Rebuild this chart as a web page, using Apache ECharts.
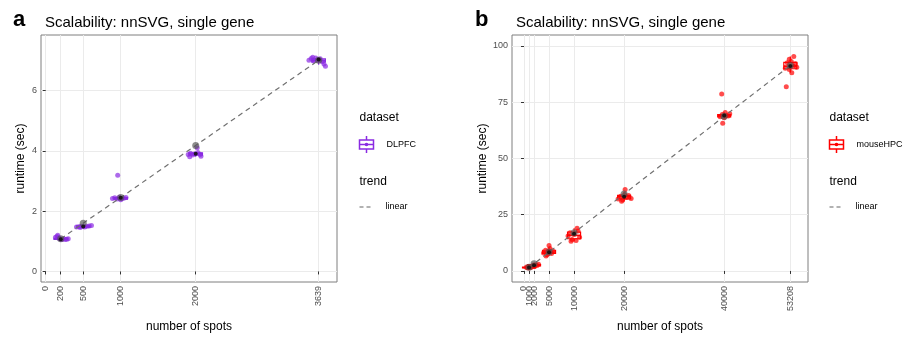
<!DOCTYPE html>
<html>
<head>
<meta charset="utf-8">
<script src="https://cdn.jsdelivr.net/npm/echarts@6/dist/echarts.min.js"></script>
<style>
  html, body { margin: 0; padding: 0; background: #fff; }
  #chart { width: 908px; height: 338px; }
</style>
</head>
<body>
<div id="chart"></div>
<script>
// panel a: DLPFC
const dlpfcTicks = [0, 200, 500, 1000, 2000, 3639];
const dlpfcYTicks = [0, 2, 4, 6];
const dlpfcPoints = [
  [130, 1.13], [150, 1.16], [160, 1.2], [175, 1.1], [190, 1.08], [205, 1.06], [220, 1.07],
  [240, 1.08], [260, 1.06], [280, 1.07], [300, 1.08], [170, 1.12],
  [410, 1.47], [440, 1.48], [470, 1.5], [500, 1.49], [520, 1.47], [550, 1.5], [580, 1.51], [610, 1.52], [460, 1.46],
  [890, 2.42], [920, 2.44], [950, 2.4], [980, 2.46], [1010, 2.41], [1040, 2.43], [1070, 2.45], [960, 3.19], [1000, 2.38],
  [1900, 3.88], [1930, 3.92], [1960, 3.86], [1990, 3.9], [2030, 3.94], [2060, 3.88], [2070, 3.82], [1920, 3.8], [2020, 4.1],
  [3510, 7.0], [3540, 7.06], [3570, 6.98], [3600, 7.08], [3630, 7.02], [3660, 7.05], [3690, 6.95], [3710, 6.88], [3730, 6.8], [3560, 7.1]
];
const dlpfcBoxes = [
  // x, min, q1, median, q3, max
  [200, 1.05, 1.06, 1.08, 1.1, 1.15],
  [500, 1.45, 1.47, 1.49, 1.51, 1.55],
  [1000, 2.38, 2.4, 2.42, 2.45, 2.48],
  [2000, 3.8, 3.86, 3.9, 3.93, 3.96],
  [3639, 6.85, 6.95, 7.0, 7.05, 7.1]
];
const dlpfcTrend = [[200, 1.08], [500, 1.6], [1000, 2.45], [2000, 4.18], [3639, 7.0]];
const dlpfcMedian = [[200, 1.07], [500, 1.49], [1000, 2.44], [2000, 3.9], [3639, 7.03]];

// panel b: mouseHPC
const hpcTicks = [0, 1000, 2000, 5000, 10000, 20000, 40000, 53208];
const hpcYTicks = [0, 25, 50, 75, 100];
const hpcPoints = [
  [600, 1.4], [800, 1.6], [1000, 1.3], [1200, 1.7], [1400, 1.5], [500, 1.8],
  [1700, 2.2], [1900, 2.6], [2100, 2.0], [2300, 2.8], [2600, 2.4], [2900, 3.0],
  [3900, 8.0], [4300, 9.2], [4600, 7.2], [4900, 8.6], [5200, 10.0], [5500, 7.8], [5700, 9.0], [5000, 11.3], [4400, 6.6],
  [8800, 15.5], [9200, 17.0], [9600, 14.0], [10000, 16.2], [10400, 13.5], [10800, 17.8], [11100, 15.0], [10600, 19.0], [9400, 13.2],
  [18800, 32.0], [19300, 33.2], [19700, 31.5], [20100, 34.0], [20500, 32.6], [20900, 33.5], [21400, 32.2], [20200, 36.2], [19500, 31.0],
  [39200, 68.5], [39600, 69.5], [40000, 68.0], [40400, 69.2], [40800, 68.8], [41100, 69.8], [39500, 78.6], [39700, 65.6], [40200, 70.4],
  [52200, 90.0], [52600, 92.5], [53000, 89.5], [53400, 93.0], [53800, 91.0], [54200, 92.0], [54500, 90.5], [53900, 95.3], [53500, 88.0], [52400, 81.8], [53000, 94.0]
];
const hpcBoxes = [
  [1000, 1.3, 1.4, 1.5, 1.7, 1.8],
  [2000, 2.0, 2.2, 2.5, 2.8, 3.0],
  [5000, 6.6, 7.8, 8.4, 9.2, 10.5],
  [10000, 13.2, 14.3, 15.8, 17.3, 19.0],
  [20000, 31.0, 32.0, 33.0, 33.6, 35.0],
  [40000, 67.8, 68.4, 69.0, 69.5, 70.4],
  [53208, 88.0, 89.8, 91.0, 92.6, 95.3]
];
const hpcTrend = [[1000, 1.6], [2000, 3.2], [5000, 8.4], [10000, 17.0], [20000, 34.2], [40000, 68.7], [53208, 91.3]];
const hpcMedian = [[1000, 1.5], [2000, 2.5], [5000, 8.3], [10000, 16.5], [20000, 33.0], [40000, 69.0], [53208, 91.0]];

const FONT = 'Liberation Sans, Arial, sans-serif';
const PURPLE = '#8A2BE2';
const RED = '#FF0000';

function boxSeries(idx, data, color, halfWidth) {
  return {
    type: 'custom',
    xAxisIndex: idx, yAxisIndex: idx,
    data: data,
    z: 2,
    renderItem: (params, api) => {
      const x = api.value(0);
      const lo = api.coord([x, api.value(1)]);
      const q1 = api.coord([x - halfWidth, api.value(2)]);
      const med = api.coord([x, api.value(3)]);
      const q3 = api.coord([x + halfWidth, api.value(4)]);
      const hi = api.coord([x, api.value(5)]);
      const style = { stroke: color, lineWidth: 1.2, fill: null };
      return {
        type: 'group',
        children: [
          { type: 'line', shape: { x1: hi[0], y1: hi[1], x2: hi[0], y2: q3[1] }, style },
          { type: 'line', shape: { x1: lo[0], y1: lo[1], x2: lo[0], y2: q1[1] }, style },
          { type: 'rect', shape: { x: q1[0], y: q3[1], width: q3[0] - q1[0], height: q1[1] - q3[1] },
            style: { stroke: color, lineWidth: 1.2, fill: '#fff' } },
          { type: 'line', shape: { x1: q1[0], y1: med[1], x2: q3[0], y2: med[1] }, style: { stroke: color, lineWidth: 1.6 } }
        ]
      };
    }
  };
}

function xAxis(idx, min, max, ticks, labels) {
  return {
    type: 'value', gridIndex: idx, min, max, position: 'bottom',
    name: 'number of spots', nameLocation: 'middle', nameGap: 39,
    nameTextStyle: { color: '#000', fontSize: 12, fontFamily: FONT },
    axisLine: { show: false },
    axisTick: { show: true, length: 3, lineStyle: { color: '#333' }, customValues: ticks },
    axisLabel: {
      rotate: 90, fontSize: 9, color: '#4d4d4d', fontFamily: FONT, margin: 4,
      customValues: labels, hideOverlap: false, formatter: v => String(v)
    },
    splitLine: { show: true, lineStyle: { color: '#ebebeb', width: 1 } }
  };
}

// extra label-only axis, so crowded labels in panel b all stay visible
function labelAxis(idx, min, max, labels) {
  return {
    type: 'value', gridIndex: idx, min, max, position: 'bottom', offset: 0,
    axisLine: { show: false }, axisTick: { show: false }, splitLine: { show: false },
    axisLabel: {
      rotate: 90, fontSize: 9, color: '#4d4d4d', fontFamily: FONT, margin: 4,
      customValues: labels, hideOverlap: false, formatter: v => String(v)
    }
  };
}

function yAxis(idx, min, max, ticks, gap) {
  return {
    type: 'value', gridIndex: idx, min, max,
    name: 'runtime (sec)', nameLocation: 'middle', nameGap: gap,
    nameTextStyle: { color: '#000', fontSize: 12, fontFamily: FONT },
    axisLine: { show: false },
    axisTick: { show: true, length: 3, lineStyle: { color: '#333' }, customValues: ticks },
    axisLabel: { fontSize: 9, color: '#4d4d4d', fontFamily: FONT, margin: 4, customValues: ticks },
    splitLine: { show: true, lineStyle: { color: '#ebebeb', width: 1 } }
  };
}

function legend(x, label, color) {
  return {
    type: 'group', left: x, top: 112,
    children: [
      { type: 'text', x: 0, y: 0, style: { text: 'dataset', fontSize: 12, fontFamily: FONT, fill: '#000' } },
      { type: 'line', shape: { x1: 7, y1: 24, x2: 7, y2: 41 }, style: { stroke: color, lineWidth: 1.5 } },
      { type: 'rect', shape: { x: 0, y: 28, width: 14, height: 9 }, style: { stroke: color, lineWidth: 1.5, fill: '#fff' } },
      { type: 'line', shape: { x1: 0, y1: 32.5, x2: 14, y2: 32.5 }, style: { stroke: color, lineWidth: 1.5 } },
      { type: 'circle', shape: { cx: 7, cy: 32.5, r: 1.8 }, style: { fill: color } },
      { type: 'text', x: 27, y: 28, style: { text: label, fontSize: 9, fontFamily: FONT, fill: '#000' } },
      { type: 'text', x: 0, y: 64, style: { text: 'trend', fontSize: 12, fontFamily: FONT, fill: '#000' } },
      { type: 'line', shape: { x1: 0, y1: 95, x2: 14, y2: 95 }, style: { stroke: '#666', lineWidth: 1.2, lineDash: [4, 3] } },
      { type: 'text', x: 26, y: 90, style: { text: 'linear', fontSize: 9, fontFamily: FONT, fill: '#000' } }
    ]
  };
}

function panelSeries(idx, points, boxes, trend, median, color, halfWidth) {
  return [
    boxSeries(idx, boxes, color, halfWidth),
    {
      type: 'scatter', xAxisIndex: idx, yAxisIndex: idx, data: points, z: 3,
      symbolSize: 5, itemStyle: { color: color, opacity: 0.7 }, silent: true
    },
    {
      type: 'line', xAxisIndex: idx, yAxisIndex: idx, data: trend, z: 4,
      symbol: 'circle', symbolSize: 7, showSymbol: true,
      itemStyle: { color: 'rgba(80,80,80,0.65)' },
      lineStyle: { color: '#707070', width: 1.2, type: [5, 4] }, silent: true
    },
    {
      type: 'scatter', xAxisIndex: idx, yAxisIndex: idx, data: median, z: 5,
      symbolSize: 4, itemStyle: { color: '#111', opacity: 0.9 }, silent: true
    }
  ];
}

const chart = echarts.init(document.getElementById('chart'), null, { renderer: 'canvas' });
chart.setOption({
  animation: false,
  textStyle: { fontFamily: FONT },
  title: [
    { text: 'a', left: 8, top: 4, textStyle: { fontSize: 22, fontWeight: 'bold', color: '#000', fontFamily: FONT } },
    { text: 'Scalability: nnSVG, single gene', left: 40, top: 10, textStyle: { fontSize: 15, fontWeight: 'normal', color: '#000', fontFamily: FONT } },
    { text: 'b', left: 470, top: 4, textStyle: { fontSize: 22, fontWeight: 'bold', color: '#000', fontFamily: FONT } },
    { text: 'Scalability: nnSVG, single gene', left: 511, top: 10, textStyle: { fontSize: 15, fontWeight: 'normal', color: '#000', fontFamily: FONT } }
  ],
  grid: [
    { left: 41, top: 35, width: 296, height: 258, show: true, borderColor: '#7f7f7f', borderWidth: 1, backgroundColor: 'transparent' },
    { left: 512, top: 35, width: 296, height: 259, show: true, borderColor: '#7f7f7f', borderWidth: 1, backgroundColor: 'transparent' }
  ],
  xAxis: [
    xAxis(0, -63, 3884, dlpfcTicks, dlpfcTicks),
    xAxis(1, -2400, 56740, hpcTicks, hpcTicks.slice(2)),
    labelAxis(1, -2400, 56740, [hpcTicks[0]]),
    labelAxis(1, -2400, 56740, [hpcTicks[1]])
  ],
  yAxis: [
    yAxis(0, -0.35, 7.84, dlpfcYTicks, 14),
    yAxis(1, -4.9, 104.8, hpcYTicks, 23)
  ],
  graphic: [legend(357, 'DLPFC', PURPLE), legend(827, 'mouseHPC', RED)],
  series: [
    ...panelSeries(0, dlpfcPoints, dlpfcBoxes, dlpfcTrend, dlpfcMedian, PURPLE, 90),
    ...panelSeries(1, hpcPoints, hpcBoxes, hpcTrend, hpcMedian, RED, 1300)
  ]
});
</script>
</body>
</html>
